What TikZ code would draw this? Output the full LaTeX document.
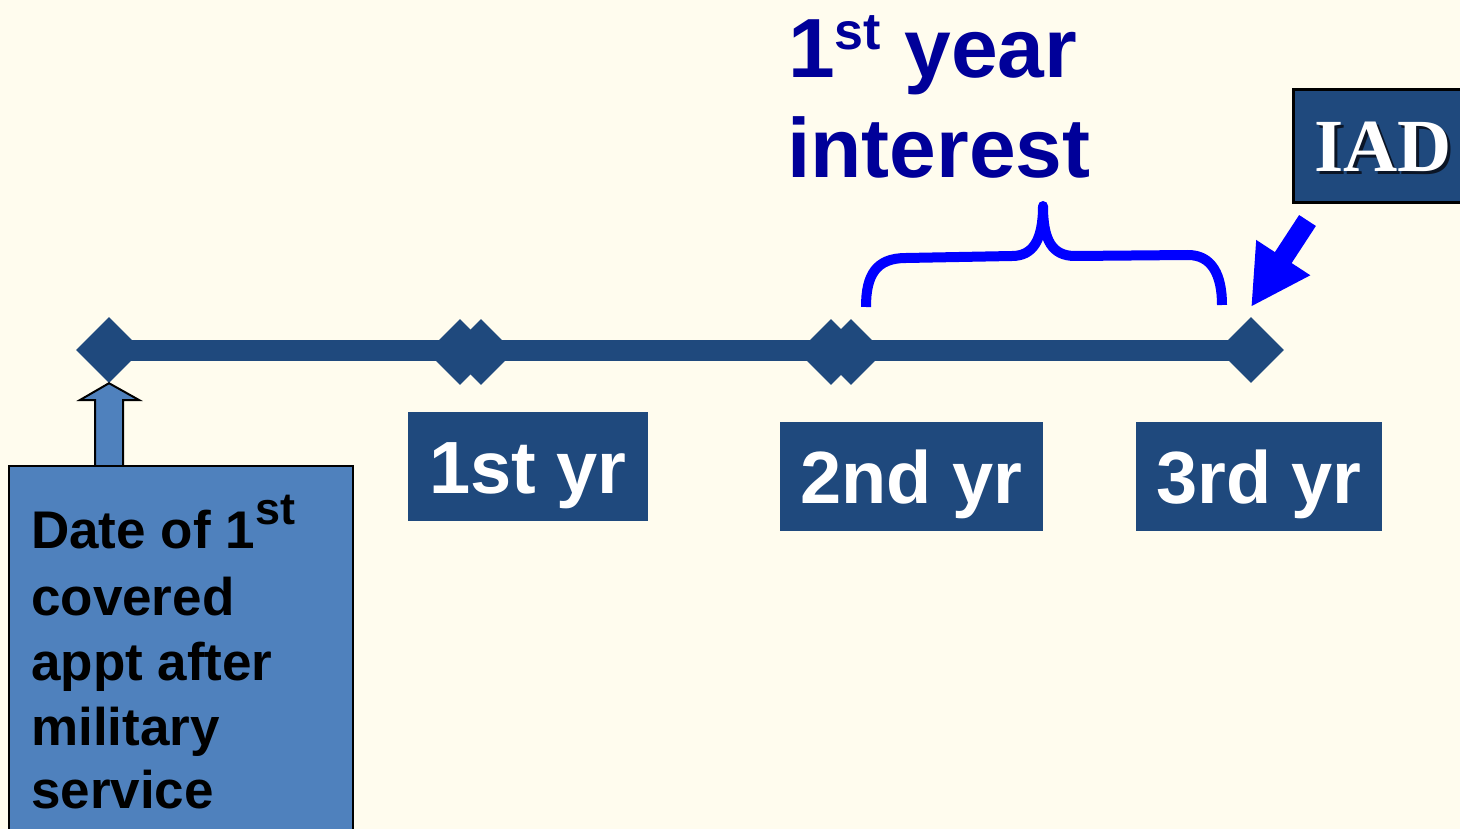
\documentclass[tikz,border=0pt]{standalone}
\usepackage{fontspec}
\setmainfont{Liberation Sans}
\newfontfamily\iadfont{Liberation Serif}
\usetikzlibrary{shapes.geometric,arrows.meta,calc}

\definecolor{paper}{HTML}{FFFCEE}
\definecolor{navy}{HTML}{1F497D}
\definecolor{steel}{HTML}{4F81BD}
\definecolor{titleblue}{HTML}{000099}
\definecolor{brightblue}{HTML}{0000FF}
\definecolor{shadowgrey}{HTML}{0B1526}

% text with a dark drop shadow behind it
\newcommand{\shadowed}[1]{\rlap{\hspace{3pt}\raisebox{-3pt}{\textcolor{shadowgrey}{#1}}}#1}

\begin{document}
\begin{tikzpicture}[x=1pt,y=-1pt,
  tickmark/.style={diamond, fill=navy, inner sep=0pt, minimum width=66pt, minimum height=66pt},
  yrbox/.style={fill=navy, text=white, inner sep=0pt,
    font=\bfseries\fontsize{74}{80}\selectfont, text height=53pt, text depth=0pt},
  titletext/.style={anchor=base west, inner sep=0pt, text=titleblue,
    font=\bfseries\fontsize{84}{90}\selectfont},
  boxtext/.style={anchor=base west, inner sep=0pt, text=black,
    font=\bfseries\fontsize{53}{60}\selectfont},
  timeline/.style={draw=navy, line width=21pt},
]
% page
\useasboundingbox (0,0) rectangle (1460,829);
\clip (0,0) rectangle (1460,829);
\fill[paper] (0,0) rectangle (1460,829);

% timeline and its ticks
\node[tickmark] (d0) at (109,350) {};
\node[tickmark] (d1a) at (460,352) {};
\node[tickmark] (d1b) at (481,352) {};
\node[tickmark] (d2a) at (831,352) {};
\node[tickmark] (d2b) at (851,352) {};
\node[tickmark] (d3) at (1251,350) {};
\draw[timeline] (d0.center) -- (d3.center);

% year labels
\node[yrbox, minimum width=240pt, minimum height=109pt] (y1) at (528,466.5) {1st yr};
\node[yrbox, minimum width=263pt, minimum height=109pt] (y2) at (911.5,476.5) {2nd yr};
\node[yrbox, minimum width=246pt, minimum height=109pt] (y3) at (1259,476.5) {3rd yr};

% starting date box with its hollow arrow
\draw[fill=steel, line width=2pt, line join=miter]
  (95,468) -- (95,400) -- (80,400) -- (d0.south) -- (139,400) -- (123,400) -- (123,468);
\node[draw=black, fill=steel, line width=2pt, inner sep=0pt,
  minimum width=344pt, minimum height=384pt] (start) at (181,658) {};
\node[boxtext] (s1) at (31,548) {Date of 1\raisebox{24pt}{\fontsize{45}{45}\selectfont st}};
\node[boxtext] (s2) at (31,615) {covered};
\node[boxtext] (s3) at (31,680) {appt after};
\node[boxtext] (s4) at (31,745) {military};
\node[boxtext] (s5) at (31,808) {service};

% brace over the last year
\draw[brightblue, line width=10pt, line join=round]
  (866,307) .. controls (866,275) and (876,258) .. (906,258) -- (1012,256)
  .. controls (1033,256) and (1043,240) .. (1043,206)
  .. controls (1043,240) and (1052,256) .. (1075,256) -- (1188,255)
  .. controls (1212,255) and (1222,275) .. (1222,305);

% title
\node[titletext] (t1) at (788,78) {1\raisebox{28pt}{\fontsize{52}{52}\selectfont st} year};
\node[titletext] (t2) at (787,178) {interest};

% IAD marker
\node[draw=black, fill=navy, line width=3pt, inner sep=0pt,
  minimum width=180pt, minimum height=113pt] (iad) at (1383,146.5) {};
\node[inner sep=0pt, text=white, font=\iadfont\bfseries\fontsize{75}{80}\selectfont,
  text height=50pt, text depth=0pt] (iadlabel) at (iad.center) {\shadowed{IAD}};

\coordinate (iadfoot) at (1307.5,220.5);
\coordinate (d3top) at (1251,307);
\draw[brightblue, line width=20pt, -{Triangle[length=59pt, width=60pt]}] (iadfoot) -- (d3top);
\end{tikzpicture}
\end{document}
